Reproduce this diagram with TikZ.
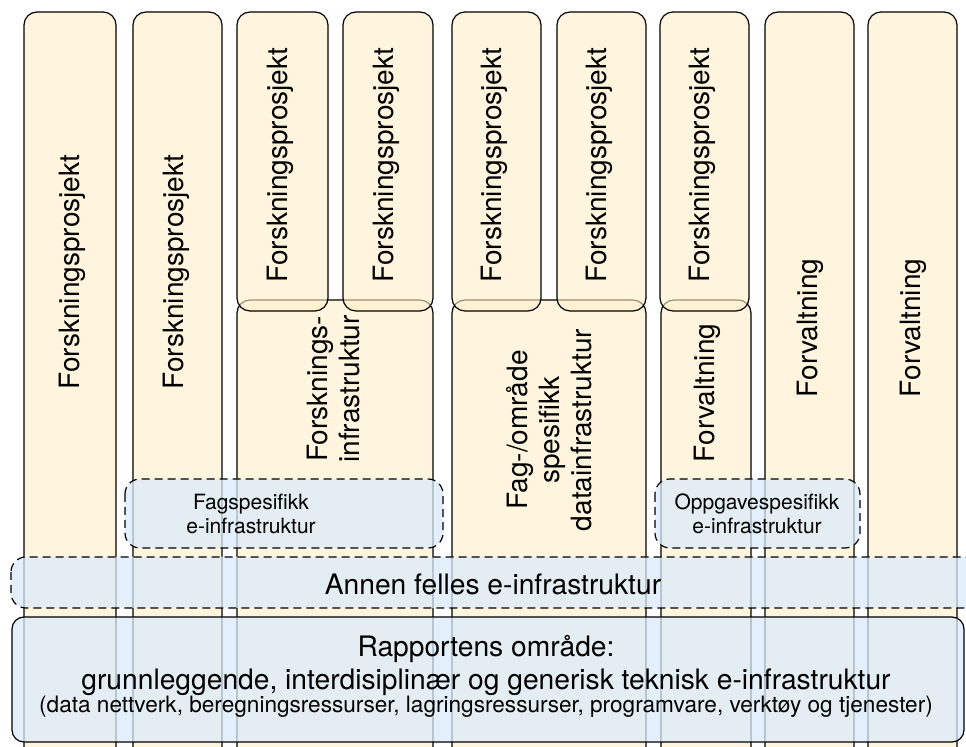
\documentclass[tikz,border=0pt]{standalone}
\usepackage{fontspec}
\setmainfont{TeX Gyre Heros}

\definecolor{pillarfill}{RGB}{255,238,200}
\definecolor{layerfill}{RGB}{218,235,250}

\tikzset{
  pillar/.style={draw=black, line width=0.6pt, fill=pillarfill, fill opacity=0.6, rounded corners=6.5pt},
  layer/.style={draw=black, line width=0.6pt, fill=layerfill, fill opacity=0.75, rounded corners=7.5pt},
  dashedlayer/.style={layer, dash pattern=on 4pt off 2.5pt},
  vtext/.style={rotate=90, font=\fontsize{14}{16}\selectfont, align=center, inner sep=0pt},
  htext/.style={font=\fontsize{14.1}{16}\selectfont, inner sep=0pt},
  smalltext/.style={font=\fontsize{10.5}{12}\selectfont, align=center, inner sep=0pt},
}

\begin{document}
\begin{tikzpicture}[x=0.5pt, y=-0.5pt]
\clip (0,0) rectangle (966,747);

%Pillars
\draw[pillar] (24,12)  rectangle (116,760);
\draw[pillar] (133,12) rectangle (222,760);
\draw[pillar] (765,12) rectangle (854,760);
\draw[pillar] (868,12) rectangle (957,760);

%Lower boxes
\draw[pillar] (237,300) rectangle (433,760);
\draw[pillar] (452,300) rectangle (646,760);
\draw[pillar] (661,300) rectangle (751,760);

%Top boxes
\draw[pillar] (237,12) rectangle (328,311);
\draw[pillar] (343,12) rectangle (433,311);
\draw[pillar] (452,12) rectangle (541,311);
\draw[pillar] (557,12) rectangle (646,311);
\draw[pillar] (660,12) rectangle (749,311);

%Layers
\draw[dashedlayer] (125,479) rectangle (443,548);
\draw[dashedlayer] (655,479) rectangle (860,548);
\draw[dashedlayer] (11,557) rectangle (985,608);
\draw[layer, rounded corners=6pt] (12,617) rectangle (964,742);

%Labels
\node[vtext] (prosjekt1) at (72,272)  {Forskningsprosjekt};
\node[vtext] (prosjekt2) at (176,272) {Forskningsprosjekt};
\node[vtext] (prosjekt3) at (280,165) {Forskningsprosjekt};
\node[vtext] (prosjekt4) at (386,165) {Forskningsprosjekt};
\node[vtext] (prosjekt5) at (494,165) {Forskningsprosjekt};
\node[vtext] (prosjekt6) at (599,165) {Forskningsprosjekt};
\node[vtext] (prosjekt7) at (702,165) {Forskningsprosjekt};
\node[vtext] (infra)     at (334,389) {Forsknings-\\infrastruktur};
\node[vtext] (datainfra) at (549,430) {Fag-/område\\spesifikk\\datainfrastruktur};
\node[vtext] (forv1)     at (707,393) {Forvaltning};
\node[vtext] (forv2)     at (810,328) {Forvaltning};
\node[vtext] (forv3)     at (913,328) {Forvaltning};

\node[smalltext] (fagspes)  at (251,514) {Fagspesifikk\\e-infrastruktur};
\node[smalltext] (oppgspes) at (757,514) {Oppgavespesifikk\\e-infrastruktur};
\node[htext, anchor=base] (felles) at (493,595) {Annen felles e-infrastruktur};

\node[htext, anchor=base] (rapport) at (486,657) {Rapportens område:};
\node[htext, anchor=base] (generisk) at (486,690)
    {grunnleggende, interdisiplinær og generisk teknisk e-infrastruktur};
\node[htext, anchor=base, font=\fontsize{11.3}{13}\selectfont] (tjenester) at (486,713)
    {(data nettverk, beregningsressurser, lagringsressurser, programvare, verktøy og tjenester)};
\end{tikzpicture}
\end{document}
